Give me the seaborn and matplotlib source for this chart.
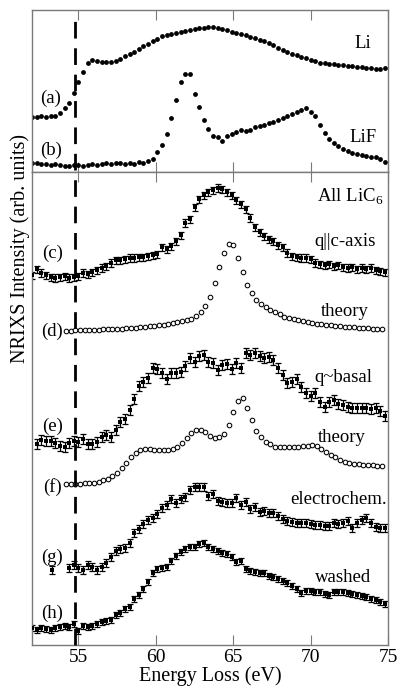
import numpy as np
import pandas as pd
import matplotlib
matplotlib.use("Agg")
import matplotlib.pyplot as plt
import seaborn as sns

# ---------------- data (energy in eV, intensity in arb. units incl. offsets) ----------------
energy_full = np.round(np.arange(52.0, 74.81, 0.3), 1)      # 77 points
energy_e = np.round(np.arange(52.3, 74.81, 0.3), 1)         # 76 points
energy_theory = np.round(np.arange(54.2, 74.61, 0.3), 1)    # 69 points
energy_g = np.concatenate([[53.3], np.round(np.arange(54.4, 74.81, 0.3), 1)])  # 70 points

li = [5.5, 5.5, 5.6, 5.5, 5.6, 5.6, 5.9, 6.4, 6.9, 7.9,
      9.0, 10.0, 10.9, 11.2, 11.1, 11.0, 11.0, 11.0, 11.1, 11.3,
      11.6, 11.8, 12.0, 12.3, 12.6, 12.8, 13.1, 13.3, 13.6, 13.7,
      13.8, 13.9, 14.0, 14.1, 14.2, 14.3, 14.4, 14.4, 14.5, 14.5,
      14.4, 14.3, 14.2, 14.0, 13.9, 13.8, 13.7, 13.5, 13.4, 13.2,
      13.1, 12.9, 12.7, 12.4, 12.2, 12.0, 11.8, 11.7, 11.5, 11.4,
      11.2, 11.1, 10.9, 10.9, 10.8, 10.8, 10.7, 10.7, 10.6, 10.6,
      10.5, 10.5, 10.4, 10.4, 10.3, 10.3, 10.4]

lif = [0.9, 0.9, 0.8, 0.8, 0.7, 0.8, 0.7, 0.6, 0.6, 0.7,
       0.7, 0.6, 0.7, 0.8, 0.7, 0.8, 0.9, 0.8, 0.9, 0.9,
       0.8, 0.9, 0.8, 1.0, 0.9, 1.1, 1.3, 2.0, 2.7, 3.8,
       5.4, 7.2, 9.0, 9.8, 9.8, 7.8, 6.5, 5.2, 4.3, 3.6,
       3.5, 3.1, 3.6, 3.8, 4.0, 4.2, 4.1, 4.2, 4.5, 4.6,
       4.7, 4.9, 5.0, 5.2, 5.4, 5.6, 5.8, 6.0, 6.2, 6.4,
       6.0, 5.6, 4.7, 3.9, 3.3, 2.9, 2.6, 2.3, 2.1, 1.9,
       1.8, 1.7, 1.6, 1.5, 1.5, 1.3, 1.0]

c_axis = [37.0, 37.6, 37.2, 37.0, 36.8, 36.7, 36.8, 36.9, 36.7, 36.8,
          36.9, 37.2, 37.1, 37.3, 37.5, 37.7, 37.9, 38.2, 38.5, 38.5,
          38.6, 38.7, 38.7, 38.8, 38.8, 38.9, 39.0, 39.1, 39.8, 39.6,
          39.9, 40.4, 41.0, 42.2, 42.6, 43.8, 44.6, 45.0, 45.3, 45.5,
          45.7, 45.6, 45.3, 45.0, 44.5, 44.1, 43.6, 42.7, 41.8, 41.3,
          40.9, 40.6, 40.4, 40.0, 39.8, 39.2, 38.9, 38.8, 38.7, 38.7,
          38.6, 38.2, 38.1, 38.0, 38.1, 37.9, 38.0, 37.8, 37.7, 37.8,
          37.6, 37.7, 37.6, 37.7, 37.5, 37.4, 37.3]

theory_c = [31.4, 31.4, 31.5, 31.5, 31.5, 31.5, 31.5, 31.5, 31.6, 31.6,
            31.6, 31.6, 31.6, 31.7, 31.7, 31.7, 31.8, 31.8, 31.9, 31.9,
            32.0, 32.0, 32.1, 32.2, 32.3, 32.4, 32.5, 32.6, 32.9, 33.3,
            33.9, 34.8, 36.2, 37.8, 39.2, 40.1, 40.0, 38.7, 37.3, 36.0,
            35.2, 34.5, 34.1, 33.8, 33.5, 33.3, 33.1, 32.8, 32.7, 32.6,
            32.5, 32.4, 32.3, 32.2, 32.1, 32.1, 32.0, 32.0, 31.9, 31.9,
            31.8, 31.8, 31.8, 31.7, 31.7, 31.7, 31.6, 31.6, 31.6]

basal = [20.1, 20.5, 20.4, 20.4, 20.2, 19.9, 19.8, 20.2, 20.4, 20.3,
         20.6, 20.1, 20.1, 20.3, 20.8, 21.0, 20.8, 21.5, 22.3, 22.6,
         23.5, 24.6, 25.9, 26.3, 26.7, 27.7, 27.6, 27.2, 26.6, 27.2,
         27.2, 27.3, 27.9, 28.7, 28.3, 28.9, 29.0, 28.3, 28.2, 27.5,
         28.0, 28.1, 27.6, 28.2, 27.7, 29.2, 29.0, 29.2, 28.9, 28.7,
         28.8, 28.5, 27.7, 27.0, 26.2, 26.3, 26.6, 25.8, 25.2, 24.9,
         25.2, 24.3, 23.8, 24.3, 24.5, 24.1, 24.0, 23.8, 23.7, 23.7,
         23.7, 23.7, 23.6, 23.7, 23.4, 22.9]

theory_basal = [16.1, 16.1, 16.1, 16.1, 16.2, 16.2, 16.2, 16.3, 16.5, 16.6,
                16.9, 17.2, 17.7, 18.2, 18.8, 19.2, 19.5, 19.6, 19.6, 19.5,
                19.5, 19.5, 19.5, 19.6, 19.8, 20.2, 20.7, 21.2, 21.5, 21.5,
                21.3, 20.9, 20.7, 20.8, 21.1, 22.0, 23.3, 24.4, 24.7, 23.7,
                22.5, 21.4, 20.8, 20.3, 20.1, 19.8, 19.8, 19.8, 19.8, 19.8,
                19.8, 19.9, 19.9, 20.0, 19.9, 19.6, 19.3, 19.0, 18.8, 18.5,
                18.3, 18.2, 18.1, 18.1, 18.0, 18.0, 18.0, 17.9, 17.9]

electrochem = [7.5,
               7.7, 8.0, 7.7, 7.5, 8.0, 7.8, 7.5, 7.8, 8.2, 8.8,
               9.4, 9.6, 9.7, 10.2, 11.2, 11.6, 12.1, 12.5, 12.7, 13.1,
               13.7, 14.0, 14.6, 14.2, 14.6, 14.8, 15.5, 15.8, 15.8, 15.8,
               14.9, 15.1, 14.4, 14.3, 14.2, 14.2, 14.7, 14.0, 14.3, 13.6,
               13.8, 13.3, 13.4, 13.2, 13.2, 12.9, 12.6, 12.4, 12.3, 12.2,
               12.2, 12.2, 12.1, 12.0, 12.0, 11.9, 11.9, 12.2, 12.1, 12.2,
               12.4, 11.7, 12.2, 12.5, 12.7, 12.2, 11.8, 11.7, 11.7]

washed = [1.7, 1.5, 1.7, 1.6, 1.5, 1.7, 1.8, 1.9, 1.8, 2.1,
          1.4, 1.9, 1.8, 1.9, 2.1, 2.3, 2.4, 2.5, 3.0, 3.2,
          3.6, 3.8, 4.6, 5.0, 5.6, 6.3, 7.2, 7.6, 7.7, 7.8,
          8.4, 8.9, 9.3, 9.6, 9.8, 9.8, 10.1, 10.2, 9.8, 9.6,
          9.4, 9.2, 9.1, 8.8, 8.3, 8.4, 7.6, 7.4, 7.3, 7.2,
          7.2, 6.9, 6.8, 6.6, 6.4, 6.2, 5.9, 5.6, 5.2, 5.4,
          5.4, 5.3, 5.3, 5.1, 5.0, 5.3, 5.3, 5.3, 5.2, 5.1,
          5.0, 4.9, 4.8, 4.6, 4.5, 4.3, 4.1]

err_c, err_e, err_g, err_h = 0.35, 0.5, 0.4, 0.3
edge_energy = 54.8
xticks = [55, 60, 65, 70, 75]

# ---------------- style ----------------
sns.set_theme(style="white")
plt.rcParams["font.family"] = ["Liberation Serif", "DejaVu Serif"]
plt.rcParams["mathtext.fontset"] = "custom"
plt.rcParams["mathtext.rm"] = "Liberation Serif"
plt.rcParams["text.color"] = "black"
plt.rcParams["axes.labelcolor"] = "black"
plt.rcParams["xtick.color"] = "black"
plt.rcParams["xtick.labelcolor"] = "black"

fig = plt.figure(figsize=(3.98, 6.89), dpi=100)
ax_top = fig.add_axes([32/398, 1-172/689, 356/398, 162/689])
ax_bot = fig.add_axes([32/398, 1-645/689, 356/398, 473/689])
ax_top.patch.set_alpha(0)

frame_col = "#7a7a7a"
for ax, ylim in ((ax_top, (0, 16.2)), (ax_bot, (0, 47.3))):
    ax.set_xlim(52, 75)
    ax.set_ylim(*ylim)
    ax.set_xticks(xticks)
    ax.set_yticks([])
    for sp in ax.spines.values():
        sp.set_color(frame_col)
        sp.set_linewidth(1.0)
    ax.tick_params(axis="x", direction="in", top=True, bottom=True, length=7,
                   width=0.8, color=frame_col, labelcolor="black",
                   labelsize=14, pad=3)
ax_top.tick_params(axis="x", labelbottom=False)

def dots(ax, x, y, **kw):
    df = pd.DataFrame({"E": x, "I": y})
    sns.scatterplot(data=df, x="E", y="I", ax=ax, legend=False, **kw)

def exp_series(ax, x, y, err):
    ax.errorbar(x, y, yerr=err, fmt="none", ecolor="black", elinewidth=0.9,
                capsize=2.2, capthick=0.9, zorder=2)
    dots(ax, x, y, marker="s", s=12, color="black", edgecolor="black",
         linewidth=0, zorder=3)

# top panel
dots(ax_top, energy_full, li, marker="o", s=12, color="black", linewidth=0)
dots(ax_top, energy_full, lif, marker="o", s=12, color="black", linewidth=0)

# bottom panel
exp_series(ax_bot, energy_full, c_axis, err_c)
dots(ax_bot, energy_theory, theory_c, marker="o", s=11, facecolor="white",
     edgecolor="black", linewidth=0.75)
exp_series(ax_bot, energy_e, basal, err_e)
dots(ax_bot, energy_theory, theory_basal, marker="o", s=11, facecolor="white",
     edgecolor="black", linewidth=0.75)
exp_series(ax_bot, energy_g, electrochem, err_g)
exp_series(ax_bot, energy_full, washed, err_h)
for ax in (ax_top, ax_bot):
    ax.set_xlabel("")
    ax.set_ylabel("")

# dashed edge line crossing both panels
ax_bot.axvline(edge_energy, ymin=0, ymax=(645-13)/473, color="black", lw=2.0,
               dashes=(6, 3.5), clip_on=False, zorder=5)

fs = 13.5
# labels top
ax_top.text(53.2, 7.4, "(a)", ha="center", va="center", fontsize=fs)
ax_top.text(53.2, 2.2, "(b)", ha="center", va="center", fontsize=fs)
ax_top.text(73.4, 12.9, "Li", ha="center", va="center", fontsize=fs)
ax_top.text(73.4, 3.5, "LiF", ha="center", va="center", fontsize=fs)
# labels bottom
ax_bot.text(70.4, 44.8, r"All LiC$_\mathrm{6}$", ha="left", va="center", fontsize=fs)
for lab, yy in (("(c)", 39.2), ("(d)", 31.4), ("(e)", 21.9), ("(f)", 15.8),
                ("(g)", 8.8), ("(h)", 3.2)):
    ax_bot.text(53.3, yy, lab, ha="center", va="center", fontsize=fs)
ax_bot.text(72.2, 40.3, "q||c-axis", ha="center", va="center", fontsize=fs)
ax_bot.text(72.2, 33.3, "theory", ha="center", va="center", fontsize=fs)
ax_bot.text(72.1, 26.8, "q~basal", ha="center", va="center", fontsize=fs)
ax_bot.text(72.0, 20.8, "theory", ha="center", va="center", fontsize=fs)
ax_bot.text(71.8, 14.5, "electrochem.", ha="center", va="center", fontsize=fs)
ax_bot.text(72.1, 6.8, "washed", ha="center", va="center", fontsize=fs)

ax_bot.set_xlabel("Energy Loss (eV)", fontsize=14.5, labelpad=0)
fig.text(0.05, 0.64, "NRIXS Intensity (arb. units)", rotation=90,
         ha="center", va="center", fontsize=14.5)

fig.savefig("out.png", dpi=100)
